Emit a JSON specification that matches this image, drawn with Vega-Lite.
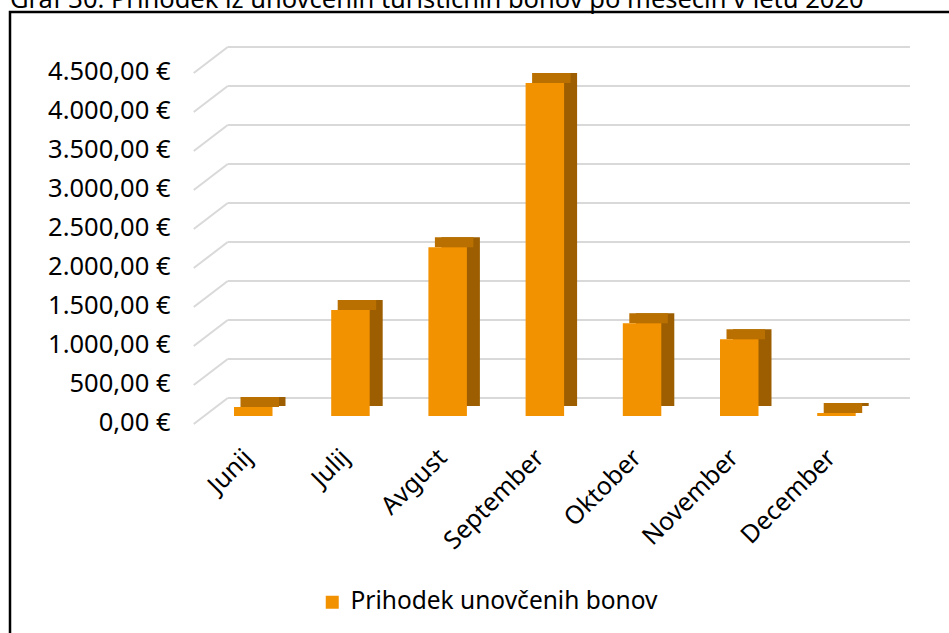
{
  "$schema": "https://vega.github.io/schema/vega-lite/v6.json",
  "width": 944,
  "height": 626,
  "autosize": {"type": "none"},
  "padding": {"left": 10, "top": 12, "right": 0, "bottom": 0},
  "background": "white",
  "config": {
    "font": "Noto Sans",
    "view": {"stroke": "black", "strokeWidth": 2.5}
  },
  "title": {
    "text": "Graf 30: Prihodek iz unovčenih turističnih bonov po mesecih v letu 2020",
    "anchor": "start",
    "frame": "group",
    "baseline": "alphabetic",
    "offset": 4,
    "dy": 25,
    "fontSize": 25.5,
    "fontWeight": "normal",
    "color": "black"
  },
  "datasets": {
    "bars": [
      {"mesec": "Junij", "prihodek": 115, "s": "Prihodek unovčenih bonov"},
      {"mesec": "Julij", "prihodek": 1360, "s": "Prihodek unovčenih bonov"},
      {"mesec": "Avgust", "prihodek": 2165, "s": "Prihodek unovčenih bonov"},
      {"mesec": "September", "prihodek": 4270, "s": "Prihodek unovčenih bonov"},
      {"mesec": "Oktober", "prihodek": 1190, "s": "Prihodek unovčenih bonov"},
      {"mesec": "November", "prihodek": 985, "s": "Prihodek unovčenih bonov"},
      {"mesec": "December", "prihodek": 40, "s": "Prihodek unovčenih bonov"}
    ],
    "grid": [
      {"v": 0}, {"v": 500}, {"v": 1000}, {"v": 1500}, {"v": 2000},
      {"v": 2500}, {"v": 3000}, {"v": 3500}, {"v": 4000}, {"v": 4500}
    ]
  },
  "layer": [
    {
      "data": {"name": "grid"},
      "mark": {"type": "rule", "color": "#d9d9d9", "strokeWidth": 2, "yOffset": -18, "xOffset": -25.5, "x2Offset": 73.5},
      "encoding": {
        "y": {"field": "v", "type": "quantitative", "scale": {"domain": [-2846, 5179.5], "nice": false, "zero": false}},
        "x": {"datum": "Junij", "type": "nominal", "scale": {"domain": ["Junij", "Julij", "Avgust", "September", "Oktober", "November", "December"], "paddingInner": 0.604, "paddingOuter": 1, "range": [126.8, 942.9]}},
        "x2": {"datum": "December"}
      }
    },
    {
      "data": {"name": "grid"},
      "mark": {"type": "rule", "color": "#d9d9d9", "strokeWidth": 2, "yOffset": -18, "y2Offset": 8, "xOffset": -25.5, "x2Offset": -59.5},
      "encoding": {
        "y": {"field": "v", "type": "quantitative"},
        "y2": {"field": "v"},
        "x": {"datum": "Junij", "type": "nominal"},
        "x2": {"datum": "Junij"}
      }
    },
    {
      "data": {"name": "bars"},
      "mark": {"type": "bar", "color": "#9C5E00", "xOffset": 13, "x2Offset": 13, "yOffset": -10, "y2Offset": -10},
      "encoding": {
        "x": {"field": "mesec", "type": "nominal", "sort": null},
        "y": {"field": "prihodek", "type": "quantitative"}
      }
    },
    {
      "data": {"name": "bars"},
      "mark": {"type": "tick", "color": "#BA7000", "size": 38.5, "thickness": 10, "xOffset": 6.5, "yOffset": -5, "opacity": 1},
      "encoding": {
        "x": {"field": "mesec", "type": "nominal", "sort": null},
        "y": {"field": "prihodek", "type": "quantitative"}
      }
    },
    {
      "data": {"name": "bars"},
      "mark": {"type": "bar"},
      "encoding": {
        "x": {
          "field": "mesec", "type": "nominal", "sort": null,
          "axis": {"title": null, "orient": "bottom", "offset": -190, "labelAngle": -45, "labelFontSize": 25, "labelColor": "black", "ticks": false, "domain": false, "grid": false, "labelPadding": 5, "labelOffset": -5}
        },
        "y": {
          "field": "prihodek", "type": "quantitative",
          "axis": {
            "title": null, "values": [0, 500, 1000, 1500, 2000, 2500, 3000, 3500, 4000, 4500],
            "labelExpr": "replace(replace(replace(format(datum.value, ',.2f'), ',', 'X'), '.', ','), 'X', '.') + ' €'",
            "grid": false, "ticks": false, "domain": false, "offset": -160, "labelPadding": 0,
            "labelFontSize": 25.5, "labelColor": "black", "labelOffset": 6
          }
        },
        "color": {
          "field": "s", "type": "nominal",
          "scale": {"domain": ["Prihodek unovčenih bonov"], "range": ["#F39200"]},
          "legend": {"title": null, "orient": "none", "legendX": 310, "legendY": 578, "symbolType": "square", "symbolSize": 169, "symbolStrokeWidth": 0, "labelFontSize": 24.5, "labelColor": "black", "labelOffset": 6, "labelLimit": 0}
        }
      }
    }
  ]
}
